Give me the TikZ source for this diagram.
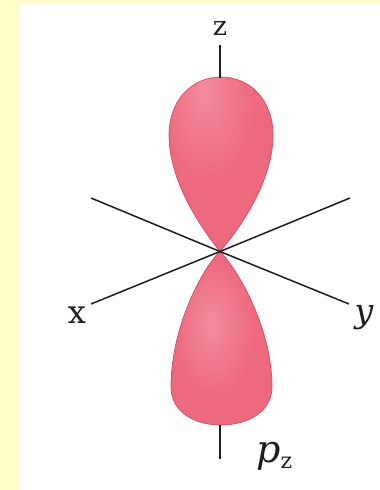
\documentclass[tikz,border=0pt]{standalone}
\usepackage{fontspec}
\setmainfont{DejaVu Serif}

\definecolor{pagebg}{RGB}{255,255,204}
\definecolor{lobehi}{RGB}{244,140,156}
\definecolor{lobebase}{RGB}{237,105,126}
\definecolor{lobeedge}{RGB}{222,84,106}
\definecolor{lobeline}{RGB}{212,78,99}
\definecolor{ink}{RGB}{30,30,30}

% soft highlights for the two lobes (centre offset towards the lit side)
\pgfdeclareradialshading{upperlobe}{\pgfpoint{-8bp}{22bp}}{%
  color(0bp)=(lobehi); color(22bp)=(lobebase); color(44bp)=(lobebase);
  color(62bp)=(lobeedge); color(90bp)=(lobeedge)}
\pgfdeclareradialshading{lowerlobe}{\pgfpoint{-5bp}{4bp}}{%
  color(0bp)=(lobehi); color(20bp)=(lobebase); color(42bp)=(lobebase);
  color(60bp)=(lobeedge); color(90bp)=(lobeedge)}

\tikzset{
  axisline/.style={draw=ink, line width=1.5pt},
  lobe/.style={draw=lobeline, line width=0.7pt},
  lbl/.style={text=ink, inner sep=0pt},
}

\begin{document}
\begin{tikzpicture}[x=1pt,y=-1pt]
  % frame
  \fill[pagebg] (0,0) rectangle (380,490);
  \fill[white] (20,3) rectangle (380,490);
  \useasboundingbox (0,0) rectangle (380,490);

  \coordinate (O) at (220,251.5);

  % upper lobe
  \shade[shading=upperlobe, lobe]
    (O) .. controls (211,240) and (169,188) .. (169,135)
        .. controls (169,100) and (192,77) .. (221,77)
        .. controls (250,77) and (273,100) .. (273,135)
        .. controls (273,188) and (230,240) .. (O) -- cycle;

  % lower lobe
  \shade[shading=lowerlobe, lobe]
    (O) .. controls (235,266) and (272,325) .. (272,387)
        .. controls (272,411) and (249,425) .. (221,425)
        .. controls (193,425) and (171,411) .. (171,387)
        .. controls (171,325) and (204,266) .. (O) -- cycle;

  % axis end points
  \coordinate (xa) at (91,304);
  \coordinate (xb) at (350,198);
  \coordinate (ya) at (91,198);
  \coordinate (yb) at (349,304);
  \coordinate (zt1) at (220,45);
  \coordinate (zt2) at (220,78);
  \coordinate (zb1) at (220,425);
  \coordinate (zb2) at (220,459);

  \draw[axisline] (xa) -- (O) -- (xb);
  \draw[axisline] (ya) -- (O) -- (yb);
  \draw[axisline] (zt1) -- (zt2);
  \draw[axisline] (zb1) -- (zb2);

  % labels
  \node[lbl, anchor=base] (zl) at (220,35) {\fontsize{27}{27}\selectfont z};
  \node[lbl, anchor=base] (xl) at (77,323) {\fontsize{32}{32}\selectfont x};
  \node[lbl, anchor=base] (yl) at (364,322) {\fontsize{33}{33}\selectfont\itshape y};
  \node[lbl, anchor=base west] (pl) at (256,462)
    {\fontsize{38}{38}\selectfont\itshape p\raisebox{-6pt}{\fontsize{22}{22}\selectfont\upshape z}};
\end{tikzpicture}
\end{document}
